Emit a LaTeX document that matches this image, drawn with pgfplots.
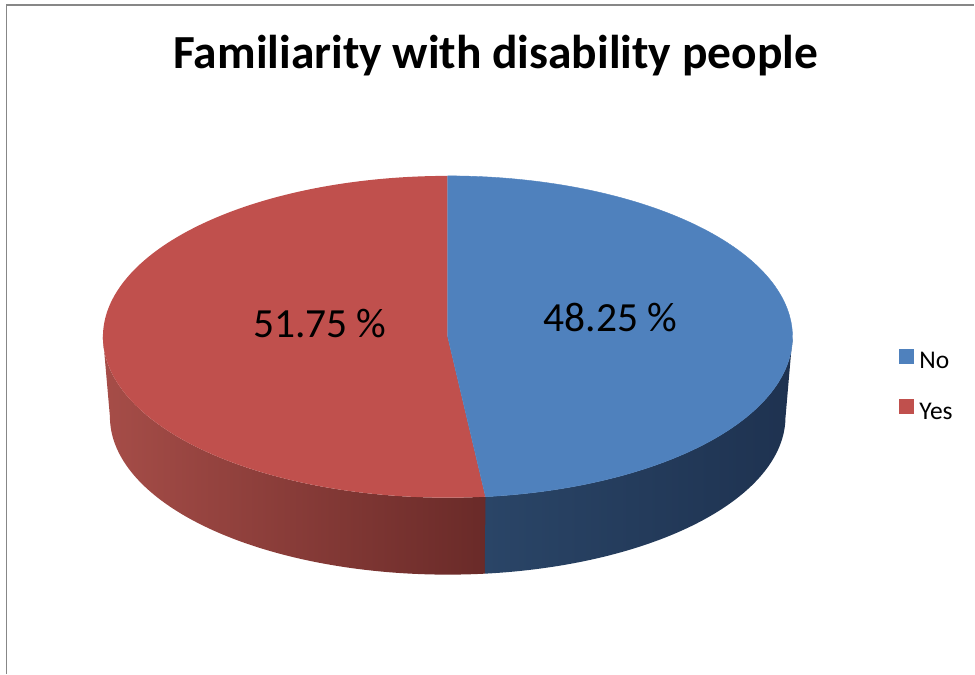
\documentclass[border=0pt]{standalone}
\usepackage{pgfplots}
\pgfplotsset{compat=1.18}
\usepackage{pgfplotstable}
\usepackage{fontspec}
\setmainfont{Carlito}

\definecolor{noTop}{HTML}{4F81BD}
\definecolor{yesTop}{HTML}{C0504D}
\definecolor{noSideL}{HTML}{2A4567}
\definecolor{noSideR}{HTML}{1E3250}
\definecolor{yesSideL}{HTML}{A64D48}
\definecolor{yesSideR}{HTML}{692A28}
\definecolor{frame}{HTML}{878787}

% Shares of answers (percent)
\pgfplotstableread{
answer share
No     48.25
Yes    51.75
}\familiarity

\pgfplotstablegetelem{0}{share}\of\familiarity \let\shareNo\pgfplotsretval
\pgfplotstablegetelem{1}{share}\of\familiarity \let\shareYes\pgfplotsretval

% "No" starts at 12 o'clock and runs clockwise; "Yes" takes the rest
\pgfmathsetmacro\split{90-3.6*\shareNo}
\pgfmathsetmacro\yesEnd{\split-3.6*\shareYes}
% small overlaps so that neighbouring side faces leave no hairline gap
\pgfmathsetmacro\splitL{\split-0.5}
\pgfmathsetmacro\splitR{\split+0.5}

% Ellipse geometry of the tilted pie (top face, bottom face, thickness)
\def\cx{448}
\def\cy{337}
\def\rx{345}
\def\ry{161}
\def\rxb{338}
\def\ryb{158}
\def\dep{80}

\begin{document}
\begin{tikzpicture}
\begin{axis}[
  hide axis,
  x=1pt, y=1pt,
  xmin=0, xmax=975, ymin=0, ymax=674,
  y dir=reverse,
  clip=false,
  legend cell align=left,
  legend image code/.code={\fill[#1, draw=none] (0pt,-0.75ex) rectangle (15pt,{15pt-0.75ex});},
  legend style={
    draw=none, fill=none,
    at={(axis cs:900,349.5)}, anchor=north west,
    inner sep=0pt, outer sep=0pt,
    font=\fontsize{25.5}{30}\selectfont,
    row sep=30.5pt, column sep=5pt,
    nodes={inner sep=0pt, outer sep=0pt, text height=16.5pt, text depth=0pt},
  },
]
\path (axis cs:0,0) rectangle (axis cs:975,674);

% front side of "Yes" (from 9 o'clock to the split)
\addplot[forget plot, draw=none, left color=yesSideL, right color=yesSideR,
  domain=0:2, samples=401, variable=\t]
  ({ifthenelse(\t<1.0001, \cx+\rx*cos(-180+((\splitR)+180)*\t), \cx+\rxb*cos((\splitR)+(-180-(\splitR))*(\t-1)))},
   {ifthenelse(\t<1.0001, \cy-\ry*sin(-180+((\splitR)+180)*\t), \cy+\dep-\ryb*sin((\splitR)+(-180-(\splitR))*(\t-1)))})
  -- cycle;

% front side of "No" (from the split to 3 o'clock)
\addplot[forget plot, draw=none, left color=noSideL, right color=noSideR,
  domain=0:2, samples=401, variable=\t]
  ({ifthenelse(\t<1.0001, \cx+\rx*cos((\split)-(\split)*\t), \cx+\rxb*cos((\split)*(\t-1)))},
   {ifthenelse(\t<1.0001, \cy-\ry*sin((\split)-(\split)*\t), \cy+\dep-\ryb*sin((\split)*(\t-1)))})
  -- cycle;

% top faces
\addplot[forget plot, draw=none, fill=yesTop, domain=\yesEnd:\split, samples=240, variable=\t]
  ({\cx+\rx*cos(\t)}, {\cy-\ry*sin(\t)}) -- (axis cs:\cx,\cy) -- cycle;
\addplot[forget plot, draw=noTop, line width=0.4pt, fill=noTop, domain=\split:90, samples=240, variable=\t]
  ({\cx+\rx*cos(\t)}, {\cy-\ry*sin(\t)}) -- (axis cs:\cx,\cy) -- cycle;

% data labels
\node[anchor=base, font=\fontsize{41.5}{48}\selectfont] at (axis cs:611,332) {\shareNo\ \%};
\node[anchor=base, font=\fontsize{41.5}{48}\selectfont] at (axis cs:320,338) {\shareYes\ \%};

% title
\node[anchor=base, font=\bfseries\fontsize{47.5}{56}\selectfont] at (axis cs:496,69)
  {Familiarity with disability people};

% chart frame
\draw[frame, line width=1.3pt] (axis cs:6.5,674) -- (axis cs:6.5,5) -- (axis cs:975,5);

\addlegendimage{fill=noTop}
\addlegendentry{No}
\addlegendimage{fill=yesTop}
\addlegendentry{Yes}
\end{axis}
\end{tikzpicture}
\end{document}
